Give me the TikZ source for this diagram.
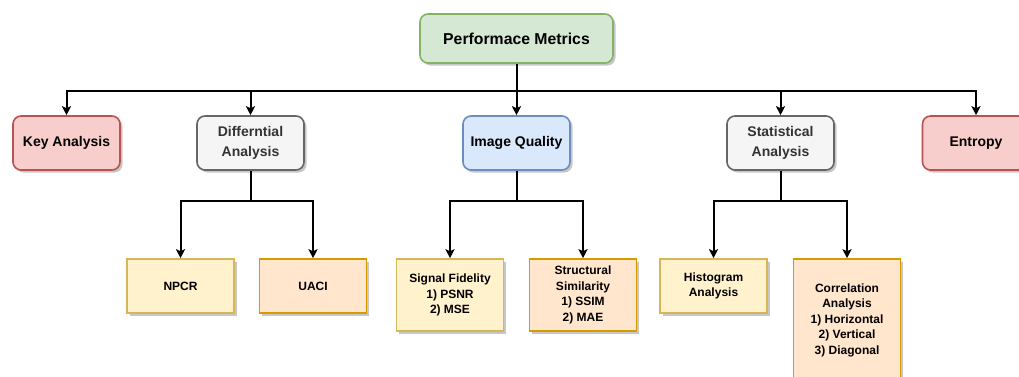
\documentclass[tikz,border=0pt]{standalone}
\usepackage{fontspec}
\setmainfont{Liberation Sans}
\usetikzlibrary{arrows.meta,shadows}

\definecolor{greenfill}{HTML}{D5E8D4}\definecolor{greenline}{HTML}{82B366}
\definecolor{redfill}{HTML}{F8CECC}\definecolor{redline}{HTML}{B85450}
\definecolor{grayfill}{HTML}{F5F5F5}\definecolor{grayline}{HTML}{666666}
\definecolor{graytext}{HTML}{333333}
\definecolor{bluefill}{HTML}{DAE8FC}\definecolor{blueline}{HTML}{6C8EBF}
\definecolor{yellowfill}{HTML}{FFF2CC}\definecolor{yellowline}{HTML}{D6B656}
\definecolor{orangefill}{HTML}{FFE6CC}\definecolor{orangeline}{HTML}{D79B00}

\tikzset{
  box/.style={draw, line width=1.6pt, align=center, inner sep=2pt,
    font=\bfseries\fontsize{14}{20}\selectfont,
    drop shadow={shadow xshift=2.5pt, shadow yshift=-2.5pt, opacity=0.22, fill=black}},
  roundbox/.style={box, rounded corners=8pt, minimum width=107pt, minimum height=54pt},
  leafbox/.style={box, font=\bfseries\fontsize{12}{15.5}\selectfont, minimum width=107pt},
  greenbox/.style={roundbox, fill=greenfill, draw=greenline, minimum width=193pt, minimum height=49pt,
    font=\bfseries\fontsize{15.8}{20}\selectfont},
  redbox/.style={roundbox, fill=redfill, draw=redline},
  graybox/.style={roundbox, fill=grayfill, draw=grayline, text=graytext},
  bluebox/.style={roundbox, fill=bluefill, draw=blueline},
  yellowbox/.style={leafbox, fill=yellowfill, draw=yellowline},
  orangebox/.style={leafbox, fill=orangefill, draw=orangeline},
  arr/.style={line width=2pt, -{Stealth[length=9pt,width=9pt,inset=2pt]}},
}

\begin{document}
\begin{tikzpicture}[x=1pt,y=-1pt]
  \clip (0,0) rectangle (1019,376);

  % root
  \node[greenbox] (top) at (516.5,38.5) {Performace Metrics};

  % first level
  \node[redbox]  (key)  at (66.5,143)  {Key Analysis};
  \node[graybox] (diff) at (250.5,143) {Differntial\\Analysis};
  \node[bluebox] (iq)   at (516.5,143) {Image Quality};
  \node[graybox] (stat) at (780.5,143) {Statistical\\Analysis};
  \node[redbox]  (ent)  at (976,143)   {Entropy};

  % leaves
  \node[yellowbox, minimum height=54pt]  (npcr) at (180.5,286) {NPCR};
  \node[orangebox, minimum height=54pt]  (uaci) at (313,286)   {UACI};
  \node[yellowbox, minimum height=72pt]  (sig)  at (450,295)   {Signal Fidelity\\1) PSNR\\2) MSE};
  \node[orangebox, minimum height=72pt]  (ssim) at (583,295)   {Structural\\Similarity\\1) SSIM\\2) MAE};
  \node[yellowbox, minimum height=54pt]  (hist) at (713.5,286) {Histogram\\Analysis};
  \node[orangebox, minimum height=122pt] (corr) at (847,320)   {Correlation\\Analysis\\1) Horizontal\\2) Vertical\\3) Diagonal};

  % root to first level
  \draw[arr] (top.south) -- ++(0,27) -| (key.north);
  \draw[arr] (top.south) -- ++(0,27) -| (diff.north);
  \draw[arr] (top.south) -- (iq.north);
  \draw[arr] (top.south) -- ++(0,27) -| (stat.north);
  \draw[arr] (top.south) -- ++(0,27) -| (ent.north);

  % first level to leaves
  \draw[arr] (diff.south) -- ++(0,30) -| (npcr.north);
  \draw[arr] (diff.south) -- ++(0,30) -| (uaci.north);
  \draw[arr] (iq.south) -- ++(0,30) -| (sig.north);
  \draw[arr] (iq.south) -- ++(0,30) -| (ssim.north);
  \draw[arr] (stat.south) -- ++(0,30) -| (hist.north);
  \draw[arr] (stat.south) -- ++(0,30) -| (corr.north);
\end{tikzpicture}
\end{document}
